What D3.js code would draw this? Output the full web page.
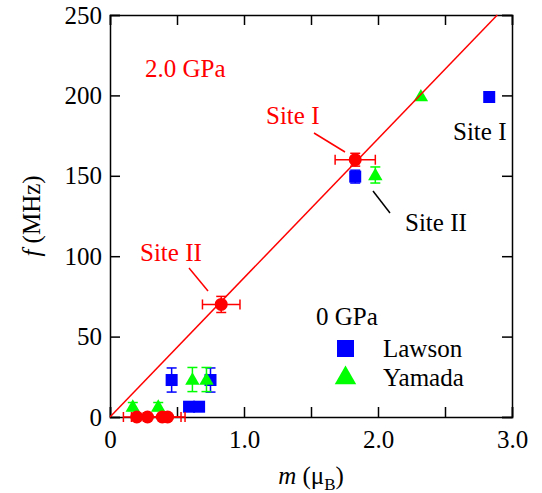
<!DOCTYPE html>
<html>
<head>
<meta charset="utf-8">
<script src="https://cdn.jsdelivr.net/npm/d3@7"></script>
<style>
  body { margin: 0; background: #fff; }
  svg text { font-family: "Liberation Serif", "Times New Roman", serif; }
</style>
</head>
<body>
<div id="chart"></div>
<script>
// 2.0 GPa points (red circles)
var redM     = [1.83, 0.83, 0.20, 0.28, 0.39, 0.43];
var redF     = [160, 70, 0, 0, 0, 0];
var redMErr  = [0.15, 0.14, 0.10, 0.12, 0.14, 0.13];
var redFErr  = [4, 5, 0, 0, 0, 0];

// 0 GPa, Lawson (blue squares)
var lawsonM    = [2.83, 1.83, 0.46, 0.75, 0.59, 0.665];
var lawsonF    = [199, 149.5, 23, 23, 6.4, 6.4];
var lawsonFErr = [0, 4, 7.5, 7.5, 0, 0];

// 0 GPa, Yamada (green triangles)
var yamadaM    = [2.32, 1.98, 0.615, 0.72, 0.17, 0.36];
var yamadaF    = [199.5, 150.5, 23.3, 23.3, 6.5, 6.5];
var yamadaFErr = [0, 5, 7.5, 7.5, 2.5, 2.5];

// linear fit through origin
var fitSlope = 86.5;

var xTicks = [0, 0.5, 1, 1.5, 2, 2.5, 3];
var yTicks = [0, 50, 100, 150, 200, 250];

var W = 542, H = 493;
var margin = {top: 15, right: 30, bottom: 76, left: 110};

var svg = d3.select("#chart").append("svg")
    .attr("width", W)
    .attr("height", H);

var x = d3.scaleLinear().domain([0, 3]).range([margin.left, W - margin.right]);
var y = d3.scaleLinear().domain([0, 250]).range([H - margin.bottom, margin.top]);

// axes - ticks point inward on all four sides
var fmtX = function(d) { return d === 0 ? "0" : (d % 1 === 0 ? d.toFixed(1) : ""); };

svg.append("g")
    .attr("transform", "translate(0," + y(0) + ")")
    .call(d3.axisBottom(x).tickValues(xTicks).tickSize(-10).tickPadding(13).tickFormat(fmtX))
    .call(function(g) { g.selectAll("text").style("font-size", "25px").attr("fill", "#000"); });

svg.append("g")
    .attr("transform", "translate(0," + y(250) + ")")
    .call(d3.axisTop(x).tickValues(xTicks).tickSize(-10).tickFormat(""));

svg.append("g")
    .attr("transform", "translate(" + x(0) + ",0)")
    .call(d3.axisLeft(y).tickValues(yTicks).tickSize(-10).tickPadding(8))
    .call(function(g) { g.selectAll("text").style("font-size", "25px").attr("fill", "#000"); });

svg.append("g")
    .attr("transform", "translate(" + x(3) + ",0)")
    .call(d3.axisRight(y).tickValues(yTicks).tickSize(-10).tickFormat(""));

svg.selectAll(".domain").attr("stroke", "#000").attr("stroke-width", 1.5);
svg.selectAll(".tick line").attr("stroke", "#000").attr("stroke-width", 1.5);

// error bars helper
function yErr(g, ms, fs, es, color, cap) {
  ms.forEach(function(m, i) {
    if (!es[i]) return;
    var cx = x(m), y0 = y(fs[i] - es[i]), y1 = y(fs[i] + es[i]);
    g.append("line").attr("x1", cx).attr("x2", cx).attr("y1", y0).attr("y2", y1);
    g.append("line").attr("x1", cx - cap).attr("x2", cx + cap).attr("y1", y0).attr("y2", y0);
    g.append("line").attr("x1", cx - cap).attr("x2", cx + cap).attr("y1", y1).attr("y2", y1);
  });
  g.attr("stroke", color).attr("stroke-width", 1.5);
}
function xErr(g, ms, fs, es, color, cap) {
  ms.forEach(function(m, i) {
    if (!es[i]) return;
    var cy = y(fs[i]), x0 = x(m - es[i]), x1 = x(m + es[i]);
    g.append("line").attr("x1", x0).attr("x2", x1).attr("y1", cy).attr("y2", cy);
    g.append("line").attr("x1", x0).attr("x2", x0).attr("y1", cy - cap).attr("y2", cy + cap);
    g.append("line").attr("x1", x1).attr("x2", x1).attr("y1", cy - cap).attr("y2", cy + cap);
  });
  g.attr("stroke", color).attr("stroke-width", 1.5);
}

// Lawson
yErr(svg.append("g"), lawsonM, lawsonF, lawsonFErr, "#0000ff", 5);
svg.append("g").selectAll("rect")
    .data(lawsonM.map(function(m, i) { return {m: m, f: lawsonF[i]}; }))
    .enter().append("rect")
    .attr("x", function(d) { return x(d.m) - 6; })
    .attr("y", function(d) { return y(d.f) - 6; })
    .attr("width", 12).attr("height", 12)
    .attr("fill", "#0000ff");

// Yamada
yErr(svg.append("g"), yamadaM, yamadaF, yamadaFErr, "#00ff00", 5);
var tri = d3.symbol().type(d3.symbolTriangle).size(90);
svg.append("g").selectAll("path")
    .data(yamadaM.map(function(m, i) { return {m: m, f: yamadaF[i]}; }))
    .enter().append("path")
    .attr("d", tri)
    .attr("transform", function(d) { return "translate(" + x(d.m) + "," + (y(d.f) + 1) + ")"; })
    .attr("fill", "#00ff00");

// fit line
svg.append("line")
    .attr("x1", x(0)).attr("y1", y(0))
    .attr("x2", x(250 / fitSlope)).attr("y2", y(250))
    .attr("stroke", "#ff0000").attr("stroke-width", 1.5);

// 2.0 GPa
xErr(svg.append("g"), redM, redF, redMErr, "#ff0000", 5);
yErr(svg.append("g"), redM, redF, redFErr, "#ff0000", 5);
svg.append("g").selectAll("circle")
    .data(redM.map(function(m, i) { return {m: m, f: redF[i]}; }))
    .enter().append("circle")
    .attr("cx", function(d) { return x(d.m); })
    .attr("cy", function(d) { return y(d.f); })
    .attr("r", 6.5)
    .attr("fill", "#ff0000");

// annotations
function label(tx, ty, str, color, anchor) {
  return svg.append("text").attr("x", tx).attr("y", ty)
    .attr("fill", color).attr("text-anchor", anchor || "start")
    .style("font-size", "25px").text(str);
}
label(145, 77, "2.0 GPa", "#ff0000");
label(266, 124, "Site I", "#ff0000");
label(140, 261, "Site II", "#ff0000");
label(453, 140, "Site I", "#000");
label(405, 231, "Site II", "#000");

svg.append("line").attr("x1", 314).attr("y1", 133).attr("x2", 345).attr("y2", 152)
    .attr("stroke", "#ff0000").attr("stroke-width", 1.5);
svg.append("line").attr("x1", 189).attr("y1", 268).attr("x2", 208).attr("y2", 291)
    .attr("stroke", "#ff0000").attr("stroke-width", 1.5);
svg.append("line").attr("x1", 373).attr("y1", 191).attr("x2", 390).attr("y2", 213)
    .attr("stroke", "#000").attr("stroke-width", 1.5);

// legend
label(316, 325, "0 GPa", "#000");
svg.append("rect").attr("x", 337).attr("y", 340).attr("width", 17).attr("height", 17).attr("fill", "#0000ff");
label(383, 357, "Lawson", "#000");
svg.append("path").attr("d", d3.symbol().type(d3.symbolTriangle).size(200))
    .attr("transform", "translate(345.5,378)").attr("fill", "#00ff00");
label(383, 386, "Yamada", "#000");

// axis titles
var yl = svg.append("text")
    .attr("transform", "translate(40," + ((y(0) + y(250)) / 2) + ") rotate(-90)")
    .attr("text-anchor", "middle")
    .style("font-size", "25px");
yl.append("tspan").style("font-style", "italic").text("f");
yl.append("tspan").text(" (MHz)");

var xl = svg.append("text")
    .attr("x", (x(0) + x(3)) / 2).attr("y", 484)
    .attr("text-anchor", "middle")
    .style("font-size", "25px");
xl.append("tspan").style("font-style", "italic").text("m");
xl.append("tspan").text(" (\u03bc");
xl.append("tspan").attr("dy", 6).style("font-size", "17px").text("B");
xl.append("tspan").attr("dy", -6).text(")");
</script>
</body>
</html>
